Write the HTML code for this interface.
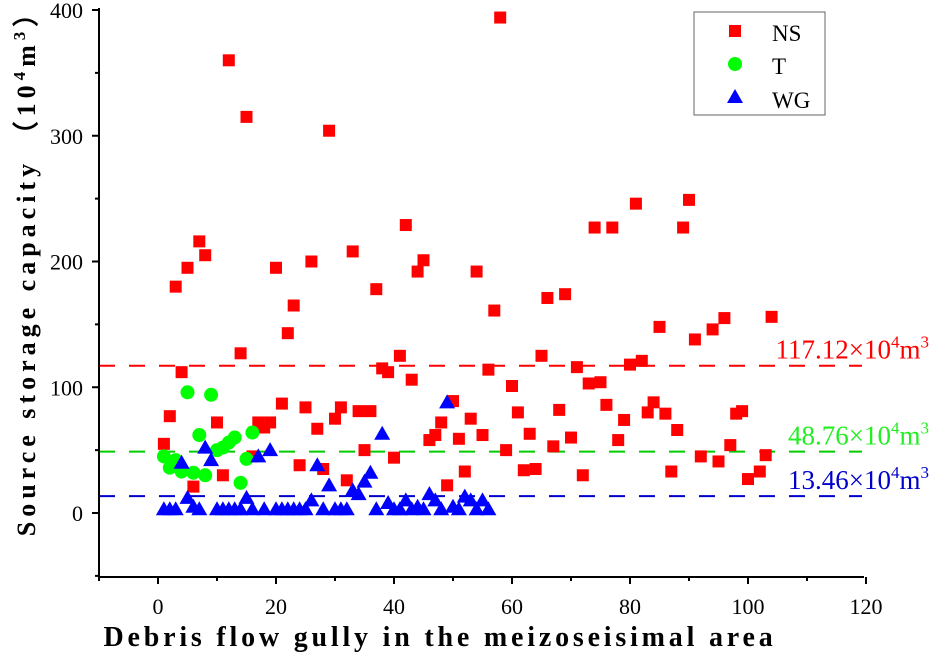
<!DOCTYPE html>
<html><head><meta charset="utf-8"><style>
body{margin:0;background:#fff;}
svg{display:block;font-family:"Liberation Serif",serif;}
</style></head><body>
<svg id="chart" width="931" height="658">
<g id="plot"></g>
<g id="axes"></g>
<text x="440" y="646" text-anchor="middle" font-size="28" font-weight="bold" letter-spacing="3.8">Debris flow gully in the meizoseisimal area</text>
<text transform="translate(35,266) rotate(-90)" text-anchor="middle" font-size="26" font-weight="bold" letter-spacing="5">Source storage capacity （10<tspan font-size="17" dy="-10">4</tspan><tspan dy="10">m</tspan><tspan font-size="17" dy="-10">3</tspan><tspan dy="10">）</tspan></text>
<g>
<rect x="694" y="12" width="131" height="103" fill="#fff" stroke="#666" stroke-width="1"/>
<rect x="729" y="25" width="12" height="12" fill="#f00"/>
<text x="772" y="41" font-size="23">NS</text>
<circle cx="735" cy="64" r="7" fill="#0f0"/>
<text x="772" y="74" font-size="23">T</text>
<polygon points="735,89 743,103 727,103" fill="#00f"/>
<text x="772" y="108" font-size="23">WG</text>
</g>
</svg>
<script>
const xTicks=[0,20,40,60,80,100,120];
const yTicks=[0,100,200,300,400];
const nsX=[1,2,3,4,5,6,7,8,10,11,12,14,15,16,17,18,19,20,21,22,23,24,25,26,27,28,29,30,31,32,33,34,35,36,37,38,39,40,41,42,43,44,45,46,47,48,49,50,51,52,53,54,55,56,57,58,59,60,61,62,63,64,65,66,67,68,69,70,71,72,73,74,75,76,77,78,79,80,81,82,83,84,85,86,87,88,89,90,91,92,94,95,96,97,98,99,100,102,103,104];
const nsY=[55,77,180,112,195,21,216,205,72,30,360,127,315,45,72,68,72,195,87,143,165,38,84,200,67,35,304,75,84,26,208,81,50,81,178,115,112,44,125,229,106,192,201,58,62,72,22,89,59,33,75,192,62,114,161,394,50,101,80,34,63,35,125,171,53,82,174,60,116,30,103,227,104,86,227,58,74,118,246,121,80,88,148,79,33,66,227,249,138,45,146,41,155,54,79,81,27,33,46,156];
const tX=[1,2,3,4,5,6,7,8,9,10,11,12,13,14,15,16];
const tY=[45,36,42,33,96,32,62,30,94,50,52,56,60,24,43,64];
const wgX=[1,2,3,4,5,6,7,8,9,10,11,12,13,14,15,16,17,18,19,20,21,22,23,24,25,26,27,28,29,30,31,32,33,34,35,36,37,38,39,40,41,42,43,44,45,46,47,48,49,50,51,52,53,54,55,56];
const wgY=[3,3,3,40,12,5,3,52,42,3,3,3,3,3,12,3,45,3,50,3,3,3,3,3,3,10,38,3,22,3,3,3,18,15,25,32,3,63,8,3,3,10,3,5,3,15,10,3,88,5,3,13,10,3,10,3];
const hLines=[117.12,48.76,13.46];
const hLabels=["117.12","48.76","13.46"];
const hColors=["#f00","#0c0","#00c"];
const hText=["#f00","#2e2","#00c"];
const NS="http://www.w3.org/2000/svg";
const X0=158,XS=5.9,Y0=513,YS=1.2575;
const xp=v=>X0+v*XS, yp=v=>Y0-v*YS;
const plot=document.getElementById('plot'), axes=document.getElementById('axes');
function mk(tag,attrs,parent){const e=document.createElementNS(NS,tag);for(const k in attrs)e.setAttribute(k,attrs[k]);parent.appendChild(e);return e;}
hLines.forEach((v,i)=>{
 const l=mk('line',{x1:99,x2:862,y1:yp(v),y2:yp(v),stroke:hColors[i],'stroke-width':2,'stroke-dasharray':'16,14'},plot);
 
 
});
nsX.forEach((v,i)=>{
 const r=mk('rect',{x:xp(v)-6,y:yp(nsY[i])-6,width:12,height:12,fill:'#f00'},plot);
 
 
});
tX.forEach((v,i)=>{
 const c=mk('circle',{cx:xp(v),cy:yp(tY[i]),r:7,fill:'#0f0'},plot);
 
 
});
wgX.forEach((v,i)=>{
 const x=xp(v),y=yp(wgY[i]);
 const p=mk('polygon',{points:`${x},${y-8} ${x+8},${y+6} ${x-8},${y+6}`,fill:'#00f'},plot);
 
 
});
hLines.forEach((v,i)=>{
 const t=mk('text',{x:929,y:yp(v)-7,'text-anchor':'end','font-size':27,fill:hText[i]},plot);
 
 
 t.innerHTML=hLabels[i]+'×10<tspan font-size="17" dy="-11">4</tspan><tspan dy="11">m</tspan><tspan font-size="17" dy="-11">3</tspan>';
});
const a1=mk('line',{x1:99,x2:99,y1:8,y2:577,stroke:'#000','stroke-width':2},axes);


const a2=mk('line',{x1:98,x2:864,y1:577,y2:577,stroke:'#000','stroke-width':2},axes);


for(let v=-10;v<=120;v+=10){const major=v%20===0;mk('line',{x1:xp(v),x2:xp(v),y1:577,y2:577+(major?7:4),stroke:'#000','stroke-width':2},axes);}
xTicks.forEach(v=>{const t=mk('text',{x:xp(v),y:614,'text-anchor':'middle','font-size':22},axes);t.textContent=v;
 
 });
for(let v=-50;v<=400;v+=50){const major=v%100===0;mk('line',{x1:99,x2:99-(major?7:4),y1:yp(v),y2:yp(v),stroke:'#000','stroke-width':2},axes);}
yTicks.forEach(v=>{const t=mk('text',{x:83,y:yp(v)+8,'text-anchor':'end','font-size':22},axes);t.textContent=v;
 
 });
</script>
</body></html>
